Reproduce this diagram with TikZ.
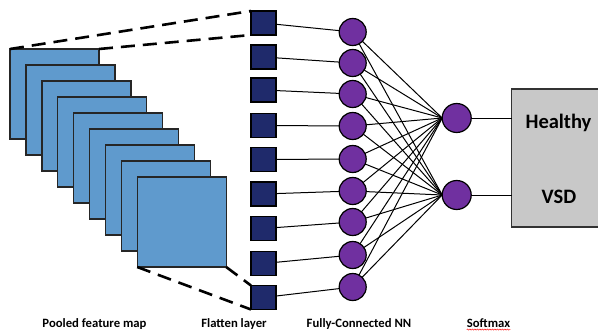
\documentclass[tikz,border=0pt]{standalone}
\usepackage{fontspec}
\setmainfont{Carlito}
\usetikzlibrary{decorations.pathmorphing,calc}
\definecolor{mapblue}{HTML}{5F9ACD}
\definecolor{navy}{HTML}{1F2A6B}
\definecolor{purp}{HTML}{7030A0}
\definecolor{boxgray}{HTML}{C8C8C8}
\tikzset{
  fmap/.style={draw=black!85, line width=1.4pt, fill=mapblue, minimum width=89pt, minimum height=90pt, inner sep=0pt, outer sep=0pt},
  flat/.style={draw=black, line width=1.2pt, fill=navy, minimum width=25pt, minimum height=24pt, inner sep=0pt, outer sep=0pt},
  neuron/.style={circle, draw=black, line width=1.2pt, fill=purp, minimum size=27pt, inner sep=0pt, outer sep=0pt},
  outn/.style={neuron, minimum size=29pt},
  dashconn/.style={line width=2.6pt, dash pattern=on 14pt off 8pt},
  conn/.style={line width=1pt},
  smbox/.style={draw=black!80, line width=1.4pt, fill=boxgray, minimum width=92pt, minimum height=138pt, inner sep=0pt, outer sep=0pt},
  lbl/.style={font=\bfseries\fontsize{12.7}{15}\selectfont, inner sep=0pt, anchor=base},
  boxtxt/.style={font=\bfseries\fontsize{20.5}{24}\selectfont, inner sep=0pt, anchor=base}
}
\begin{document}
\begin{tikzpicture}[x=1pt,y=-1pt]
\clip (0,0) rectangle (598,332);
\fill[white] (0,0) rectangle (598,332);
% feature maps
\foreach \i in {1,...,9}{
  \node[fmap] (m\i) at ({54.5+15.9*(\i-1)}, {94+16*(\i-1)}) {};
}
% flatten
\foreach \i/\y in {1/23,2/57,3/90,4/125.5,5/159.5,6/194,7/228.5,8/263.5,9/297.5}{
  \node[flat] (f\i) at (263.5,\y) {};
}
% hidden neurons
\foreach \i/\y in {1/32,2/63,3/94,4/126,5/159,6/191,7/222,8/255,9/287}{
  \node[neuron] (h\i) at (352.7,\y) {};
}
\node[outn] (o1) at (456.7,118) {};
\node[outn] (o2) at (456.7,195) {};
% softmax box
\node[smbox] (sm) at (557.7,158) {};
\node[boxtxt] (healthy) at (558.5,128) {Healthy};
\node[boxtxt] (vsd) at (559,203) {VSD};
% dashed projections
\draw[dashconn] (m1.north west) -- (f1.north west);
\draw[dashconn] (m1.north east) -- (f1.south west);
\draw[dashconn] (m9.south west) -- (f9.south west);
\draw[dashconn] (m9.south east) -- (f9.north west);
% connections
\foreach \i in {1,...,9}{
  \draw[conn] (f\i) -- (h\i);
  \draw[conn] (h\i) -- (o1.west);
  \draw[conn] (h\i) -- (o2.west);
}
\draw[conn] (o1) -- (sm.west |- o1);
\draw[conn] (o2) -- (sm.west |- o2);
% labels
\node[lbl] (l1) at (94.5,327) {Pooled feature map};
\node[lbl] (l2) at (234,327) {Flatten layer};
\node[lbl] (l3) at (359,327) {Fully-Connected NN};
\node[lbl] (l4) at (488.5,327) {Softmax};
\draw[red, line width=0.4pt, decorate, decoration={snake, amplitude=0.6pt, segment length=2.5pt}] ($(l4.base west)+(0,2.6)$) -- ($(l4.base east)+(0,2.6)$);
\end{tikzpicture}
\end{document}
